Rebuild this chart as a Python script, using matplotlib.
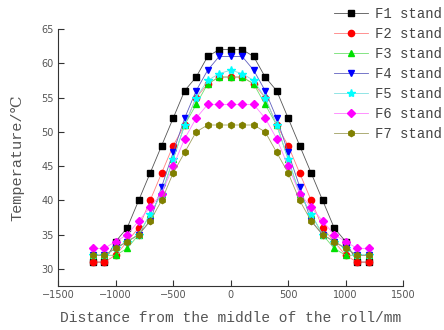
import matplotlib
matplotlib.use("Agg")
import matplotlib.pyplot as plt

x = [-1200, -1100, -1000, -900, -800, -700, -600, -500, -400, -300, -200, -100,
     0, 100, 200, 300, 400, 500, 600, 700, 800, 900, 1000, 1100, 1200]

F1 = [31, 31, 34, 36, 40, 44, 48, 52, 56, 58, 61, 62, 62, 62, 61, 58, 56, 52, 48, 44, 40, 36, 34, 31, 31]
F2 = [31, 31, 32, 34, 36, 40, 44, 48, 51, 55, 57, 58, 58, 58, 57, 55, 51, 48, 44, 40, 36, 34, 32, 31, 31]
F3 = [32, 32, 32, 33, 35, 38, 41, 46, 51, 54, 57, 58, 58, 58, 57, 54, 51, 46, 41, 38, 35, 33, 32, 32, 32]
F4 = [32, 32, 33, 34, 35, 37, 42, 47, 52, 56, 59, 61, 61, 61, 59, 56, 52, 47, 42, 37, 35, 34, 33, 32, 32]
F5 = [32, 32, 33, 34, 35, 38, 41, 46, 51, 55, 57.5, 58.5, 59, 58.5, 57.5, 55, 51, 46, 41, 38, 35, 34, 33, 32, 32]
F6 = [33, 33, 34, 35, 37, 39, 41, 45, 49, 52, 54, 54, 54, 54, 54, 52, 49, 45, 41, 39, 37, 35, 34, 33, 33]
F7 = [32, 32, 33, 34, 35, 37, 40, 44, 47, 50, 51, 51, 51, 51, 51, 50, 47, 44, 40, 37, 35, 34, 33, 32, 32]

labels = ["F1 stand", "F2 stand", "F3 stand", "F4 stand", "F5 stand", "F6 stand", "F7 stand"]
series = [F1, F2, F3, F4, F5, F6, F7]
colors = ["#000000", "#ff0000", "#00e000", "#0000ff", "#00ffff", "#ff00ff", "#808000"]
line_colors = ["#555555", "#ff8080", "#70e070", "#6060c0", "#80e0e0", "#ff80ff", "#a0a060"]
markers = ["s", "o", "^", "v", "*", "D", "h"]
msizes = [4.5, 4.5, 4.5, 5, 6, 4, 4.5]

serif_mono = ["Liberation Mono", "DejaVu Sans Mono", "DejaVu Serif"]

fig = plt.figure(figsize=(4.44, 3.30), dpi=100)
ax = fig.add_axes([0.131, 0.133, 0.777, 0.779])

handles = []
for ys, lab, c, lc, m, ms in zip(series, labels, colors, line_colors, markers, msizes):
    h, = ax.plot(x, ys, color=lc, lw=0.6, marker=m, markersize=ms,
                 markerfacecolor=c, markeredgecolor=c, label=lab)
    handles.append(h)

ax.set_xlim(-1500, 1500)
ax.set_ylim(27.5, 65)
ax.set_xticks([-1500, -1000, -500, 0, 500, 1000, 1500])
ax.set_yticks([30, 35, 40, 45, 50, 55, 60, 65])
ax.spines["top"].set_visible(False)
ax.spines["right"].set_visible(False)
for s in ("left", "bottom"):
    ax.spines[s].set_linewidth(0.8)
    ax.spines[s].set_color("#333333")
ax.tick_params(direction="in", length=4, width=0.8, labelsize=7, colors="#333333",
               labelcolor="#555555", pad=3)

ax.set_xlabel("Distance from the middle of the roll/mm", family=serif_mono,
              fontsize=10.5, color="#555555", labelpad=8)
ax.set_ylabel("Temperature/℃", family=serif_mono, fontsize=11, color="#555555", labelpad=12)

leg = fig.legend(handles=handles, loc="upper left", bbox_to_anchor=(0.745, 0.987),
                 frameon=False, prop={"family": serif_mono, "size": 10},
                 handlelength=2.45, handletextpad=0.55, labelspacing=0.43,
                 borderaxespad=0, borderpad=0.2)
for t in leg.get_texts():
    t.set_color("#444444")

fig.savefig("out.png", dpi=100)
